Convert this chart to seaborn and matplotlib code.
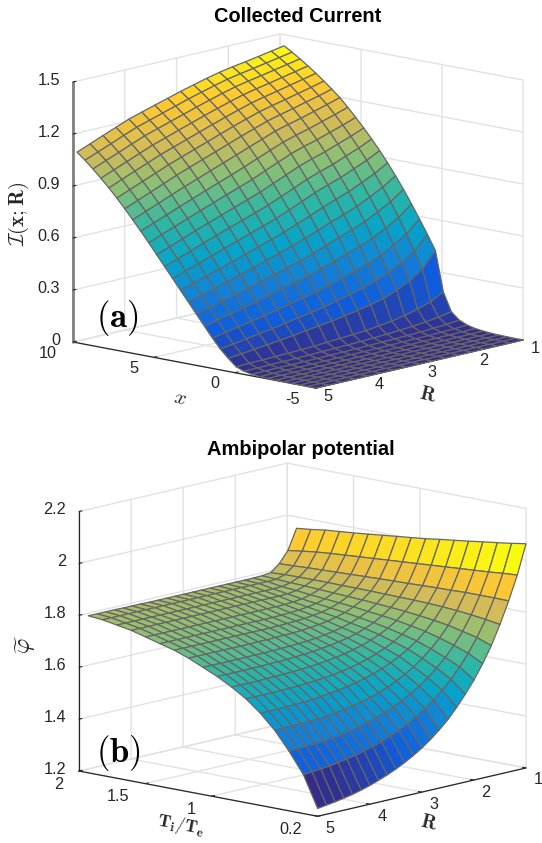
import numpy as np
import matplotlib
matplotlib.use("Agg")
import matplotlib.pyplot as plt
from matplotlib.colors import Normalize
import seaborn as sns
from mpl_toolkits.mplot3d import proj3d

sns.set_theme(style="white")
plt.rcParams["font.family"] = ["Liberation Sans", "DejaVu Sans"]
plt.rcParams["mathtext.fontset"] = "cm"

W, H = 542, 843
PARULA = ["#352a87", "#0f5cdd", "#1481d6", "#06a4ca", "#2eb7a4", "#87bf77", "#d1bb59", "#fec832", "#f9fb0e"]
cmap = sns.blend_palette(PARULA, n_colors=64, as_cmap=True)

# Panel (a): collected current, one list per R, along x
R_a = [1, 1.25, 1.5, 1.75, 2, 2.25, 2.5, 2.75, 3, 3.25, 3.5, 3.75, 4, 4.25, 4.5, 4.75, 5]
x_a = np.linspace(-5, 9.75, 31)
I_100 = [0,0,.001,.002,.004,.008,.014,.025,.045,.085,.19,.42,.505,.585,.663,.738,.808,.874,.936,.994,1.049,1.101,1.151,1.198,1.238,1.276,1.312,1.346,1.378,1.408,1.436]
I_125 = [0,0,.001,.002,.004,.007,.012,.021,.037,.07,.15,.331,.425,.515,.602,.684,.759,.830,.897,.959,1.018,1.074,1.126,1.175,1.217,1.257,1.295,1.330,1.363,1.394,1.423]
I_150 = [0,0,.001,.002,.003,.006,.011,.018,.032,.06,.125,.279,.375,.468,.558,.643,.720,.794,.865,.930,.991,1.049,1.103,1.153,1.198,1.239,1.278,1.314,1.348,1.380,1.409]
I_175 = [0,0,.001,.002,.003,.005,.01,.016,.028,.052,.105,.242,.335,.426,.518,.603,.683,.760,.833,.899,.963,1.024,1.079,1.131,1.178,1.221,1.261,1.298,1.333,1.366,1.396]
I_200 = [0,0,.001,.002,.003,.005,.009,.015,.025,.046,.09,.213,.305,.396,.488,.574,.654,.732,.807,.875,.940,1.003,1.059,1.112,1.160,1.204,1.245,1.283,1.319,1.353,1.384]
I_225 = [0,0,.001,.001,.003,.005,.008,.014,.023,.041,.08,.194,.282,.371,.461,.547,.627,.704,.779,.848,.914,.978,1.036,1.091,1.140,1.185,1.227,1.266,1.303,1.338,1.370]
I_250 = [0,0,.001,.001,.003,.004,.007,.012,.021,.037,.07,.179,.261,.346,.434,.517,.597,.672,.746,.815,.881,.946,1.006,1.062,1.114,1.161,1.204,1.245,1.283,1.319,1.352]
I_275 = [0,0,0,.001,.002,.004,.007,.011,.019,.034,.065,.165,.242,.323,.409,.489,.568,.642,.714,.783,.850,.915,.976,1.034,1.088,1.136,1.180,1.222,1.261,1.298,1.332]
I_300 = [0,0,0,.001,.002,.004,.006,.01,.018,.031,.06,.151,.224,.302,.385,.463,.541,.612,.682,.751,.817,.882,.945,1.005,1.060,1.109,1.155,1.198,1.238,1.277,1.312]
I_325 = [0,0,0,.001,.002,.003,.006,.01,.016,.029,.055,.141,.210,.285,.365,.441,.516,.587,.656,.724,.790,.854,.916,.977,1.032,1.082,1.129,1.173,1.214,1.253,1.289]
I_350 = [0,0,0,.001,.002,.003,.005,.009,.015,.027,.05,.131,.196,.268,.346,.419,.492,.562,.631,.698,.763,.827,.888,.949,1.005,1.055,1.103,1.148,1.190,1.230,1.267]
I_375 = [0,0,0,.001,.002,.003,.005,.008,.014,.025,.047,.12,.182,.251,.326,.397,.468,.536,.605,.672,.736,.799,.860,.920,.977,1.028,1.077,1.122,1.166,1.206,1.244]
I_400 = [0,0,0,.001,.002,.003,.005,.008,.013,.023,.044,.11,.168,.234,.306,.375,.443,.511,.579,.645,.709,.771,.831,.892,.949,1.001,1.051,1.097,1.142,1.183,1.221]
I_425 = [0,0,0,.001,.002,.003,.004,.007,.012,.022,.042,.101,.156,.219,.288,.355,.421,.487,.553,.618,.681,.742,.802,.862,.918,.970,1.020,1.067,1.112,1.153,1.191]
I_450 = [0,0,0,.001,.001,.002,.004,.007,.012,.021,.04,.092,.144,.205,.270,.335,.399,.463,.527,.59,.652,.713,.772,.831,.887,.940,.990,1.036,1.081,1.122,1.161]
I_475 = [0,0,0,.001,.001,.002,.004,.006,.011,.02,.038,.084,.132,.19,.253,.315,.377,.439,.501,.562,.623,.684,.743,.801,.856,.909,.959,1.006,1.051,1.092,1.130]
I_500 = [0,0,0,0,.001,.002,.003,.005,.009,.018,.035,.075,.12,.175,.235,.295,.355,.415,.475,.535,.595,.655,.713,.77,.825,.878,.928,.975,1.02,1.062,1.10]

# Panel (b): ambipolar potential, one list per Ti/Te, along R
R_b = np.linspace(1, 5, 25)
T_b = np.linspace(0.2, 1.93, 17)
P_00 = [2.064,1.951,1.859,1.776,1.702,1.64,1.585,1.538,1.495,1.456,1.424,1.395,1.370,1.348,1.329,1.312,1.297,1.284,1.272,1.262,1.253,1.246,1.240,1.235,1.23]
P_01 = [2.055,1.947,1.860,1.785,1.723,1.670,1.625,1.585,1.551,1.521,1.495,1.472,1.452,1.435,1.420,1.407,1.396,1.386,1.378,1.371,1.365,1.360,1.356,1.353,1.35]
P_02 = [2.047,1.942,1.860,1.792,1.736,1.690,1.651,1.618,1.589,1.564,1.542,1.523,1.506,1.492,1.480,1.470,1.461,1.453,1.447,1.442,1.438,1.435,1.433,1.431,1.43]
P_03 = [2.04,1.938,1.860,1.798,1.749,1.708,1.674,1.645,1.620,1.599,1.581,1.565,1.551,1.540,1.531,1.523,1.517,1.512,1.508,1.505,1.503,1.502,1.501,1.50,1.50]
P_04 = [2.032,1.934,1.858,1.802,1.758,1.723,1.694,1.670,1.650,1.633,1.618,1.606,1.596,1.587,1.580,1.574,1.569,1.565,1.562,1.560,1.558,1.557,1.556,1.555,1.555]
P_05 = [2.025,1.930,1.857,1.805,1.765,1.734,1.709,1.688,1.671,1.657,1.645,1.635,1.627,1.620,1.615,1.611,1.608,1.605,1.603,1.602,1.601,1.60,1.60,1.60,1.60]
P_06 = [2.018,1.926,1.855,1.807,1.771,1.744,1.722,1.705,1.691,1.679,1.670,1.662,1.656,1.651,1.647,1.644,1.641,1.639,1.638,1.637,1.636,1.635,1.635,1.635,1.635]
P_07 = [2.01,1.922,1.853,1.808,1.776,1.752,1.733,1.718,1.706,1.697,1.690,1.684,1.680,1.676,1.673,1.671,1.669,1.668,1.667,1.666,1.666,1.665,1.665,1.665,1.665]
P_08 = [2.004,1.918,1.852,1.809,1.780,1.758,1.742,1.729,1.719,1.712,1.706,1.701,1.698,1.696,1.694,1.693,1.692,1.691,1.691,1.69,1.69,1.69,1.69,1.69,1.69]
P_09 = [1.998,1.914,1.850,1.810,1.784,1.765,1.751,1.741,1.733,1.728,1.724,1.721,1.719,1.718,1.717,1.716,1.716,1.715,1.715,1.715,1.715,1.715,1.715,1.715,1.715]
P_10 = [1.992,1.910,1.848,1.811,1.787,1.770,1.758,1.750,1.745,1.741,1.739,1.737,1.736,1.735,1.735,1.735,1.735,1.735,1.735,1.735,1.735,1.735,1.735,1.735,1.735]
P_11 = [1.986,1.906,1.846,1.811,1.790,1.775,1.765,1.759,1.755,1.753,1.751,1.75,1.75,1.75,1.75,1.75,1.75,1.75,1.75,1.75,1.75,1.75,1.75,1.75,1.75]
P_12 = [1.98,1.902,1.844,1.812,1.793,1.780,1.772,1.768,1.766,1.765,1.765,1.765,1.765,1.765,1.765,1.765,1.765,1.765,1.765,1.765,1.765,1.765,1.765,1.765,1.765]
P_13 = [1.975,1.898,1.842,1.812,1.796,1.786,1.781,1.78,1.78,1.78,1.78,1.78,1.78,1.78,1.78,1.78,1.78,1.78,1.78,1.78,1.78,1.78,1.78,1.78,1.78]
P_14 = [1.97,1.893,1.840,1.812,1.798,1.791,1.79,1.79,1.79,1.79,1.79,1.79,1.79,1.79,1.79,1.79,1.79,1.79,1.79,1.79,1.79,1.79,1.79,1.79,1.79]
P_15 = [1.962,1.886,1.837,1.811,1.801,1.80,1.80,1.80,1.80,1.80,1.80,1.80,1.80,1.80,1.80,1.80,1.80,1.80,1.80,1.80,1.80,1.80,1.80,1.80,1.80]
P_16 = [1.956,1.878,1.835,1.808,1.804,1.803,1.803,1.803,1.803,1.803,1.803,1.803,1.803,1.803,1.803,1.803,1.803,1.803,1.804,1.804,1.804,1.805,1.805,1.805,1.805]

Z_a = np.array([I_100,I_125,I_150,I_175,I_200,I_225,I_250,I_275,I_300,I_325,I_350,I_375,I_400,I_425,I_450,I_475,I_500]).T  # rows x
Z_b = np.array([P_00,P_01,P_02,P_03,P_04,P_05,P_06,P_07,P_08,P_09,P_10,P_11,P_12,P_13,P_14,P_15,P_16])  # rows T

fig = plt.figure(figsize=(W / 100, H / 100), dpi=100, facecolor="white")
GRID = "#e2e2e2"
DARK = "#262626"
TICK = 11.7


def label(px, py, s, **kw):
    kw.setdefault("ha", "center")
    kw.setdefault("va", "center")
    kw.setdefault("color", DARK)
    fig.text(px / W, 1 - py / H, s, **kw)


def panel(xv, yv, Z, xlim, ylim, zlim, xt, xtl, yt, ytl, zt, ztl, azim, elev, aspect, corner_left, corner_right, zlw, xoff, yoff):
    ax = fig.add_axes([0.1, 0.1, 0.8, 0.4], projection="3d")
    ax.set_proj_type("ortho")
    ax.view_init(elev=elev, azim=azim)
    X, Y = np.meshgrid(xv, yv, indexing="ij")
    # each face takes the colour of its first corner, as the original does
    colours = cmap(Normalize(Z.min(), Z.max())(Z))
    surf = ax.plot_surface(X, Y, Z, facecolors=colours, rstride=1, cstride=1,
                           linewidth=0.9, shade=False, antialiased=True)
    surf.set_edgecolor("#666666")
    ax.set_xlim(*xlim, view_margin=0)
    ax.set_ylim(*ylim, view_margin=0)
    ax.set_zlim(*zlim, view_margin=0)
    ax.set_box_aspect(aspect)
    ax.set_xticks(xt, [""] * len(xt))
    ax.set_yticks(yt, [""] * len(yt))
    ax.set_zticks(zt, [""] * len(zt))
    ax.patch.set_alpha(0)
    for a in (ax.xaxis, ax.yaxis, ax.zaxis):
        a.set_pane_color((1, 1, 1, 0))
        a.pane.set_edgecolor(GRID)
        a.pane.set_linewidth(1.0)
        a._axinfo["grid"].update(color=GRID, linewidth=1.0, linestyle="-")
        a._axinfo["tick"].update(inward_factor=0.0, outward_factor=0.18, linewidth={True: 0.8, False: 0.5})
        a._axinfo["axisline"]["color"] = DARK
        a.line.set_linewidth(0.9)
        a.set_tick_params(colors=DARK)
    ax.grid(True)
    ax.zaxis.set_ticks_position("upper")
    ax.zaxis.line.set_linewidth(zlw)
    ax.zaxis.line.set_color("#808080" if zlw > 1 else DARK)

    def pix(p):
        x2, y2, _ = proj3d.proj_transform(p[0], p[1], p[2], ax.get_proj())
        return ax.transData.transform((x2, y2))

    L = (xlim[1], ylim[1], zlim[0])
    Rr = (xlim[0], ylim[0], zlim[0])
    target_L = np.array([corner_left[0], H - corner_left[1]], float)
    target_R = np.array([corner_right[0], H - corner_right[1]], float)
    for _ in range(3):
        fig.canvas.draw()
        pL, pR = pix(L), pix(Rr)
        s = (target_R[0] - target_L[0]) / (pR[0] - pL[0])
        pos = ax.get_position()
        ctr = np.array([pos.x0 * W + pos.width * W / 2, pos.y0 * H + pos.height * H / 2])
        side = max(pos.width * W, pos.height * H) * s
        mid_now = (pL + pR) / 2
        mid_tgt = (target_L + target_R) / 2
        new_ctr = mid_tgt + (ctr - mid_now) * s
        ax.set_position([(new_ctr[0] - side / 2) / W, (new_ctr[1] - side / 2) / H, side / W, side / H])
    fig.canvas.draw()

    # tick labels follow the axes' own projection
    for v, t in zip(xt, xtl):
        p = pix((v, ylim[1], zlim[0]))
        label(p[0] + xoff[0], H - p[1] + xoff[1], t, fontsize=TICK, ha="right")
    for v, t in zip(yt, ytl):
        p = pix((xlim[0], v, zlim[0]))
        label(p[0] + yoff[0], H - p[1] + yoff[1], t, fontsize=TICK)
    for v, t in zip(zt, ztl):
        p = pix((xlim[1], ylim[1], v))
        label(p[0] - 13, H - p[1] - 2, t, fontsize=TICK, ha="right")
    return ax


panel(x_a, R_a, Z_a, (-5, 10), (1, 5), (0, 1.5),
      [-5, 0, 5, 10], ["-5", "0", "5", "10"], [1, 2, 3, 4, 5], ["1", "2", "3", "4", "5"],
      [0, 0.3, 0.6, 0.9, 1.2, 1.5], ["0", "0.3", "0.6", "0.9", "1.2", "1.5"],
      132.1, 12.1, (327.5, 309, 266), (73, 342), (523, 340), 2.0, (-16, 11), (12, 8.5))

panel(T_b, R_b, Z_b, (0.2, 2), (1, 5), (1.2, 2.2),
      [0.2, 1, 1.5, 2], ["0.2", "1", "1.5", "2"], [1, 2, 3, 4, 5], ["1", "2", "3", "4", "5"],
      [1.2, 1.4, 1.6, 1.8, 2, 2.2], ["1.2", "1.4", "1.6", "1.8", "2", "2.2"],
      132.1, 12.1, (320, 309, 264), (79, 771), (526, 768), 0.9, (-16, 13), (12, 12))

label(298, 16, "Collected Current", fontsize=14.4, fontweight="bold", color="black")
label(301, 450, "Ambipolar potential", fontsize=14.4, fontweight="bold", color="black")
label(19, 214, r"$\mathcal{I}(\mathbf{x};\mathbf{R})$", fontsize=15, rotation=90)
label(26, 644, r"$\widetilde{\varphi}$", fontsize=17, rotation=90)
label(180, 398, r"$\mathit{x}$", fontsize=15, rotation=-13)
label(428, 395, r"$\mathbf{R}$", fontsize=14, rotation=-14)
label(429, 823, r"$\mathbf{R}$", fontsize=14, rotation=-14)
label(181, 826, r"$\mathbf{T_i/T_e}$", fontsize=13, rotation=-11)
label(117, 318, r"$\mathbf{(a)}$", fontsize=25, color="black")
label(118, 753, r"$\mathbf{(b)}$", fontsize=25, color="black")

fig.savefig("out.png", dpi=100)
